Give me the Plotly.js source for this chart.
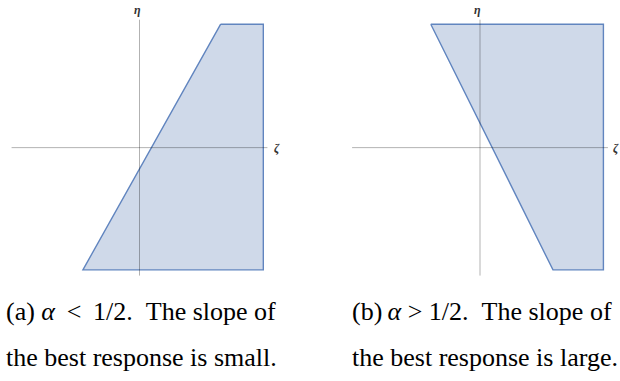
<!DOCTYPE html>
<html>
<head>
<meta charset="utf-8">
<script src="https://cdn.plot.ly/plotly-3.0.1.min.js"></script>
<style>html,body{margin:0;padding:0;background:#fff;}#chart{width:620px;height:381px;}</style>
</head>
<body>
<div id="chart"></div>
<script>
// Region (a): alpha < 1/2, polygon vertices (zeta, eta)
const zetaA = [1.98, 3.02, 3.02, -1.38, 1.98];
const etaA  = [3.01, 3.01, -2.98, -2.98, 3.01];
// Region (b): alpha > 1/2
const zetaB = [-1.20, 3.01, 3.01, 1.78, -1.20];
const etaB  = [3.01, 3.01, -2.98, -2.98, 3.01];
// Axis labels and captions
const axisLabels = ["ζ", "η"];
const captionA = ["(a) <i>α</i> \u2009&lt; \u20091/2.&nbsp; The slope of", "the best response is small."];
const captionB = ["(b)\u2009<i>α</i> &gt; 1/2.&nbsp; The slope of", "the best response is large."];

const FILL = 'rgb(207,217,233)';
const EDGE = '#6185bf';
const AX = 3.12;

const traces = [
  {x: zetaA, y: etaA, xaxis: 'x', yaxis: 'y', type: 'scatter', mode: 'lines', fill: 'toself',
   fillcolor: FILL, line: {color: EDGE, width: 1.4}, hoverinfo: 'skip', showlegend: false},
  {x: zetaB, y: etaB, xaxis: 'x2', yaxis: 'y2', type: 'scatter', mode: 'lines', fill: 'toself',
   fillcolor: FILL, line: {color: EDGE, width: 1.4}, hoverinfo: 'skip', showlegend: false}
];

function axShapes(xr, yr) {
  const st = {color: 'rgba(0,0,0,0.3)', width: 1};
  return [
    {type: 'line', xref: xr, yref: yr, x0: -AX, x1: AX, y0: 0, y1: 0, line: st, layer: 'above'},
    {type: 'line', xref: xr, yref: yr, x0: 0, x1: 0, y0: -AX, y1: AX, line: st, layer: 'above'}
  ];
}

const labFont = {family: 'Liberation Serif', size: 12, color: '#333'};
const capFont = {family: 'Liberation Serif', size: 26, color: '#000'};
const H = 381;
function py(p) { return 1 - p / H; }

const annotations = [
  {xref: 'x', yref: 'y', x: 3.35, y: 0, text: '<b><i>' + axisLabels[0] + '</i></b>', showarrow: false, font: labFont},
  {xref: 'x', yref: 'y', x: -0.05, y: 3.36, text: '<b><i>' + axisLabels[1] + '</i></b>', showarrow: false, font: labFont},
  {xref: 'x2', yref: 'y2', x: 3.32, y: 0, text: '<b><i>' + axisLabels[0] + '</i></b>', showarrow: false, font: labFont},
  {xref: 'x2', yref: 'y2', x: -0.05, y: 3.36, text: '<b><i>' + axisLabels[1] + '</i></b>', showarrow: false, font: labFont},
  {xref: 'paper', yref: 'paper', x: 4/620, y: py(311), xanchor: 'left', yanchor: 'middle', text: captionA[0], showarrow: false, font: capFont},
  {xref: 'paper', yref: 'paper', x: 4/620, y: py(357.5), xanchor: 'left', yanchor: 'middle', text: captionA[1], showarrow: false, font: capFont},
  {xref: 'paper', yref: 'paper', x: 350/620, y: py(311), xanchor: 'left', yanchor: 'middle', text: captionB[0], showarrow: false, font: capFont},
  {xref: 'paper', yref: 'paper', x: 350/620, y: py(357.5), xanchor: 'left', yanchor: 'middle', text: captionB[1], showarrow: false, font: capFont}
];

const hidden = {visible: false, showgrid: false, zeroline: false, fixedrange: true};
const layout = {
  width: 620, height: 381,
  margin: {l: 0, r: 0, t: 0, b: 0},
  paper_bgcolor: '#fff', plot_bgcolor: 'rgba(0,0,0,0)',
  showlegend: false,
  xaxis: Object.assign({domain: [0.1/620, 278.9/620], range: [-3.4, 3.4], anchor: 'y'}, hidden),
  yaxis: Object.assign({domain: [0.225, 1], range: [-3.6, 3.6], anchor: 'x'}, hidden),
  xaxis2: Object.assign({domain: [340.6/620, 619.4/620], range: [-3.4, 3.4], anchor: 'y2'}, hidden),
  yaxis2: Object.assign({domain: [0.225, 1], range: [-3.6, 3.6], anchor: 'x2'}, hidden),
  shapes: axShapes('x', 'y').concat(axShapes('x2', 'y2')),
  annotations: annotations
};

Plotly.newPlot('chart', traces, layout, {staticPlot: true, displayModeBar: false});
</script>
</body>
</html>
